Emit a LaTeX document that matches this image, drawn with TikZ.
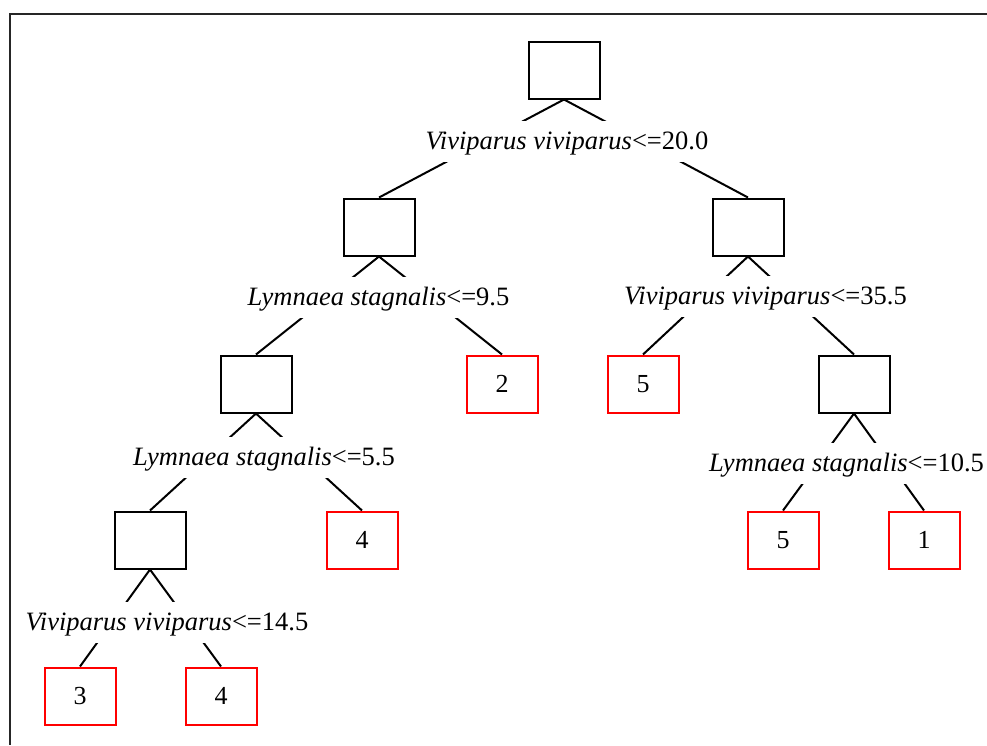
\documentclass[tikz,border=0pt]{standalone}
\usepackage{fontspec}
\setmainfont{Liberation Serif}
\begin{document}
\begin{tikzpicture}[x=1pt,y=-1pt,
  inner/.style={draw=black,line width=2pt,minimum width=71pt,minimum height=57pt,inner sep=0pt},
  leaf/.style={draw=red,line width=2pt,minimum width=71pt,minimum height=57pt,inner sep=0pt,font=\fontsize{26}{30}\selectfont},
  cond/.style={fill=white,anchor=base,inner xsep=1pt,inner ysep=7pt,text height=21pt,text depth=5.5pt,font=\fontsize{26.5}{30}\selectfont},
  edge/.style={line width=2pt}]
\useasboundingbox (0,0) rectangle (987,745);
\draw[line width=2.4pt,black!85] (987,14) -- (10,14) -- (10,745);
% decision boxes
\node[inner] (r) at (564,70) {};
\node[inner] (l) at (379,227) {};
\node[inner] (rt) at (748,227) {};
\node[inner] (ll) at (256,384) {};
\node[inner] (rr) at (854,384) {};
\node[inner] (lll) at (150,540) {};
% leaves
\node[leaf] (f2) at (502,384) {2};
\node[leaf] (f5a) at (643,384) {5};
\node[leaf] (f4a) at (362,540) {4};
\node[leaf] (f5b) at (783,540) {5};
\node[leaf] (f1) at (924,540) {1};
\node[leaf] (f3) at (80,696) {3};
\node[leaf] (f4b) at (221,696) {4};
% edges
\draw[edge] (r.south) -- (l.north);
\draw[edge] (r.south) -- (rt.north);
\draw[edge] (l.south) -- (ll.north);
\draw[edge] (l.south) -- (f2.north);
\draw[edge] (rt.south) -- (f5a.north);
\draw[edge] (rt.south) -- (rr.north);
\draw[edge] (ll.south) -- (lll.north);
\draw[edge] (ll.south) -- (f4a.north);
\draw[edge] (rr.south) -- (f5b.north);
\draw[edge] (rr.south) -- (f1.north);
\draw[edge] (lll.south) -- (f3.north);
\draw[edge] (lll.south) -- (f4b.north);
% split conditions
\node[cond] (c1) at (567,149) {\textit{Viviparus viviparus}<=20.0};
\node[cond] (c2) at (378.5,305) {\textit{Lymnaea stagnalis}<=9.5};
\node[cond] (c3) at (765.5,304) {\textit{Viviparus viviparus}<=35.5};
\node[cond] (c4) at (264,465) {\textit{Lymnaea stagnalis}<=5.5};
\node[cond] (c5) at (846.5,471) {\textit{Lymnaea stagnalis}<=10.5};
\node[cond] (c6) at (167,630) {\textit{Viviparus viviparus}<=14.5};
\end{tikzpicture}
\end{document}
